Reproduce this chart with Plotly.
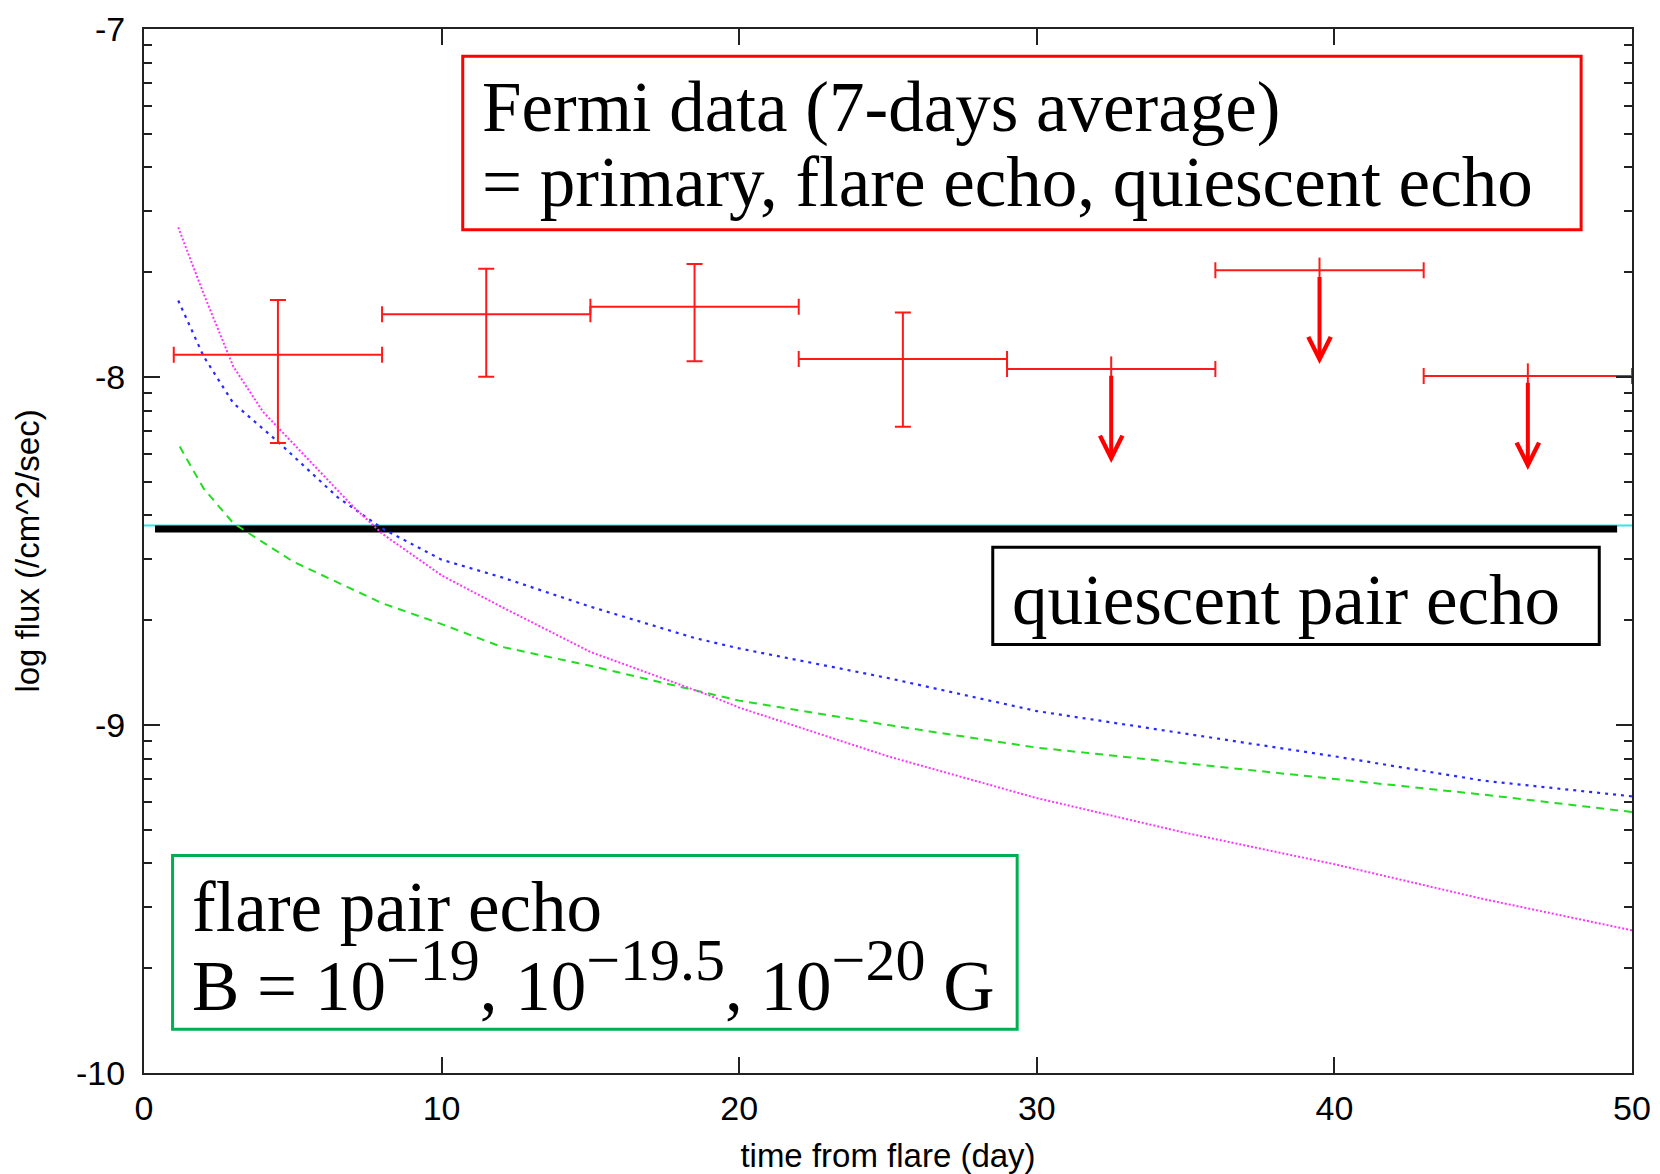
import numpy as np
import plotly.graph_objects as go

# ---------------- data ----------------
# Fermi 7-day average detections (log flux)
bin_center = [4.5, 11.5, 18.5, 25.5]
bin_halfwidth = [3.5, 3.5, 3.5, 3.5]
flux = [-7.936, -7.820, -7.798, -7.948]
flux_hi = [-7.779, -7.689, -7.675, -7.815]
flux_lo = [-8.190, -7.999, -7.955, -8.143]

# Fermi upper limits
ul_center = [32.5, 39.5, 46.5]
ul_halfwidth = [3.5, 3.5, 3.5]
ul_flux = [-7.977, -7.693, -7.997]

# flare pair echo model curves
echo_B20_t = [1.15, 2, 3, 4, 5, 6, 7, 8, 10, 12, 15, 19, 20, 25, 30, 35, 40, 45, 50]
echo_B20 = [-7.57, -7.76, -7.97, -8.10, -8.19, -8.28, -8.37, -8.45, -8.57, -8.66,
            -8.79, -8.915, -8.95, -9.09, -9.21, -9.31, -9.40, -9.50, -9.59]

echo_B195_t = [1.15, 2, 3, 4.5, 6.5, 8, 10, 12, 15, 18.5, 20, 25, 30, 35, 40, 45, 50]
echo_B195 = [-7.78, -7.94, -8.075, -8.186, -8.345, -8.435, -8.525, -8.575, -8.66,
             -8.75, -8.78, -8.865, -8.96, -9.025, -9.09, -9.16, -9.205]

echo_B19_t = [1.2, 2, 3, 5, 8, 10, 12, 15, 20, 25, 30, 35, 40, 45, 50]
echo_B19 = [-8.20, -8.32, -8.42, -8.53, -8.65, -8.71, -8.775, -8.83, -8.93, -9.00,
            -9.065, -9.11, -9.155, -9.20, -9.25]

# quiescent pair echo level
quiescent_t = [0, 50]
quiescent = [-8.427, -8.427]
quiescent_mark_t = [0.37, 49.5]
quiescent_mark = [-8.437, -8.437]

x_ticks = [0, 10, 20, 30, 40, 50]
y_ticks = [-10, -9, -8, -7]
y_ticklabels = ["-10", "-9", "-8", "-7"]

# ---------------- figure ----------------
RED = "#ff1a1a"
fig = go.Figure()

fig.add_trace(go.Scatter(x=quiescent_t, y=quiescent, mode="lines",
                         line=dict(color="#33e6e6", width=2), showlegend=False))
fig.add_trace(go.Scatter(x=quiescent_mark_t, y=quiescent_mark, mode="lines",
                         line=dict(color="black", width=7), showlegend=False))

fig.add_trace(go.Scatter(x=echo_B19_t, y=echo_B19, mode="lines",
                         line=dict(color="#22dd22", width=2, dash="8px,6px"), showlegend=False))
fig.add_trace(go.Scatter(x=echo_B195_t, y=echo_B195, mode="lines",
                         line=dict(color="#2a2aff", width=2.2, dash="3px,5px"), showlegend=False))
fig.add_trace(go.Scatter(x=echo_B20_t, y=echo_B20, mode="lines",
                         line=dict(color="#ff33ff", width=2, dash="2px,2px"), showlegend=False))

# detections
fig.add_trace(go.Scatter(
    x=bin_center, y=flux, mode="markers",
    marker=dict(size=1, color=RED),
    error_x=dict(type="data", array=bin_halfwidth, color=RED, thickness=2, width=8),
    error_y=dict(type="data", symmetric=False,
                 array=[h - f for h, f in zip(flux_hi, flux)],
                 arrayminus=[f - l for f, l in zip(flux, flux_lo)],
                 color=RED, thickness=2, width=8),
    showlegend=False))

# upper limits (horizontal bars)
fig.add_trace(go.Scatter(
    x=ul_center, y=ul_flux, mode="markers",
    marker=dict(symbol="line-ns", size=18, line=dict(color=RED, width=2)),
    error_x=dict(type="data", array=ul_halfwidth, color=RED, thickness=2, width=8),
    showlegend=False))

ARROW_LEN = 0.27
for xc, yc in zip(ul_center, ul_flux):
    fig.add_annotation(x=xc, y=yc - ARROW_LEN, ax=xc, ay=yc - 0.015,
                       xref="x", yref="y", axref="x", ayref="y",
                       text="", showarrow=True, arrowhead=5, arrowsize=1.1,
                       arrowwidth=4, arrowcolor="#ff0000", standoff=0, startstandoff=0)

# text boxes
SERIF = "Liberation Serif"
fig.add_shape(type="rect", xref="x", yref="y", x0=10.71, x1=48.29, y0=-7.078, y1=-7.577,
              line=dict(color="#ff0000", width=3))
fig.add_shape(type="rect", xref="x", yref="y", x0=28.52, x1=48.90, y0=-8.489, y1=-8.769,
              line=dict(color="black", width=3))
fig.add_shape(type="rect", xref="x", yref="y", x0=0.96, x1=29.34, y0=-9.375, y1=-9.874,
              line=dict(color="#00b050", width=3))

def label(x, y, txt, size=71):
    fig.add_annotation(x=x, y=y, xref="x", yref="y", text=txt, showarrow=False,
                       xanchor="left", yanchor="middle",
                       font=dict(family=SERIF, size=size, color="black"))

def sup(s):
    return "<sup><span style='font-size:60px'>" + s + "</span></sup>"

label(11.30, -7.225, "Fermi data (7-days average)")
label(11.30, -7.440, "= primary, flare echo, quiescent echo")
label(29.10, -8.641, "quiescent pair echo")
label(1.55, -9.523, "flare pair echo")
label(1.55, -9.722, "B = 10" + sup("−19") + ", 10" + sup("−19.5") + ", 10" + sup("−20") + " G")

SANS = "Liberation Sans"
fig.update_xaxes(range=[0, 50], tickvals=x_ticks, ticks="inside", ticklen=16, tickwidth=2,
                 tickcolor="#222", showline=True, linewidth=2, linecolor="#222",
                 mirror="allticks", showgrid=False, zeroline=False, ticklabelstandoff=4,
                 automargin=False,
                 tickfont=dict(family=SANS, size=34, color="black"),
                 title=dict(text="time from flare (day)", standoff=21,
                            font=dict(family=SANS, size=33, color="black")))

minor_vals = [d + float(np.log10(k)) for d in [-10, -9, -8] for k in range(2, 10)]
fig.update_yaxes(range=[-10, -7], tickvals=y_ticks, ticktext=y_ticklabels,
                 ticks="inside", ticklen=16, tickwidth=2, tickcolor="#222",
                 showline=True, linewidth=2, linecolor="#222", mirror="allticks",
                 showgrid=False, zeroline=False, ticklabelstandoff=10,
                 automargin=False,
                 minor=dict(tickvals=minor_vals, ticks="inside", ticklen=8, tickwidth=2,
                            tickcolor="#222", showgrid=False),
                 tickfont=dict(family=SANS, size=34, color="black"),
                 title=dict(text="log flux (/cm^2/sec)", standoff=27,
                            font=dict(family=SANS, size=33, color="black")))

fig.update_layout(width=1660, height=1174, margin=dict(l=144, r=28, t=29, b=101),
                  plot_bgcolor="white", paper_bgcolor="white", showlegend=False)

fig.write_html("out.html")
